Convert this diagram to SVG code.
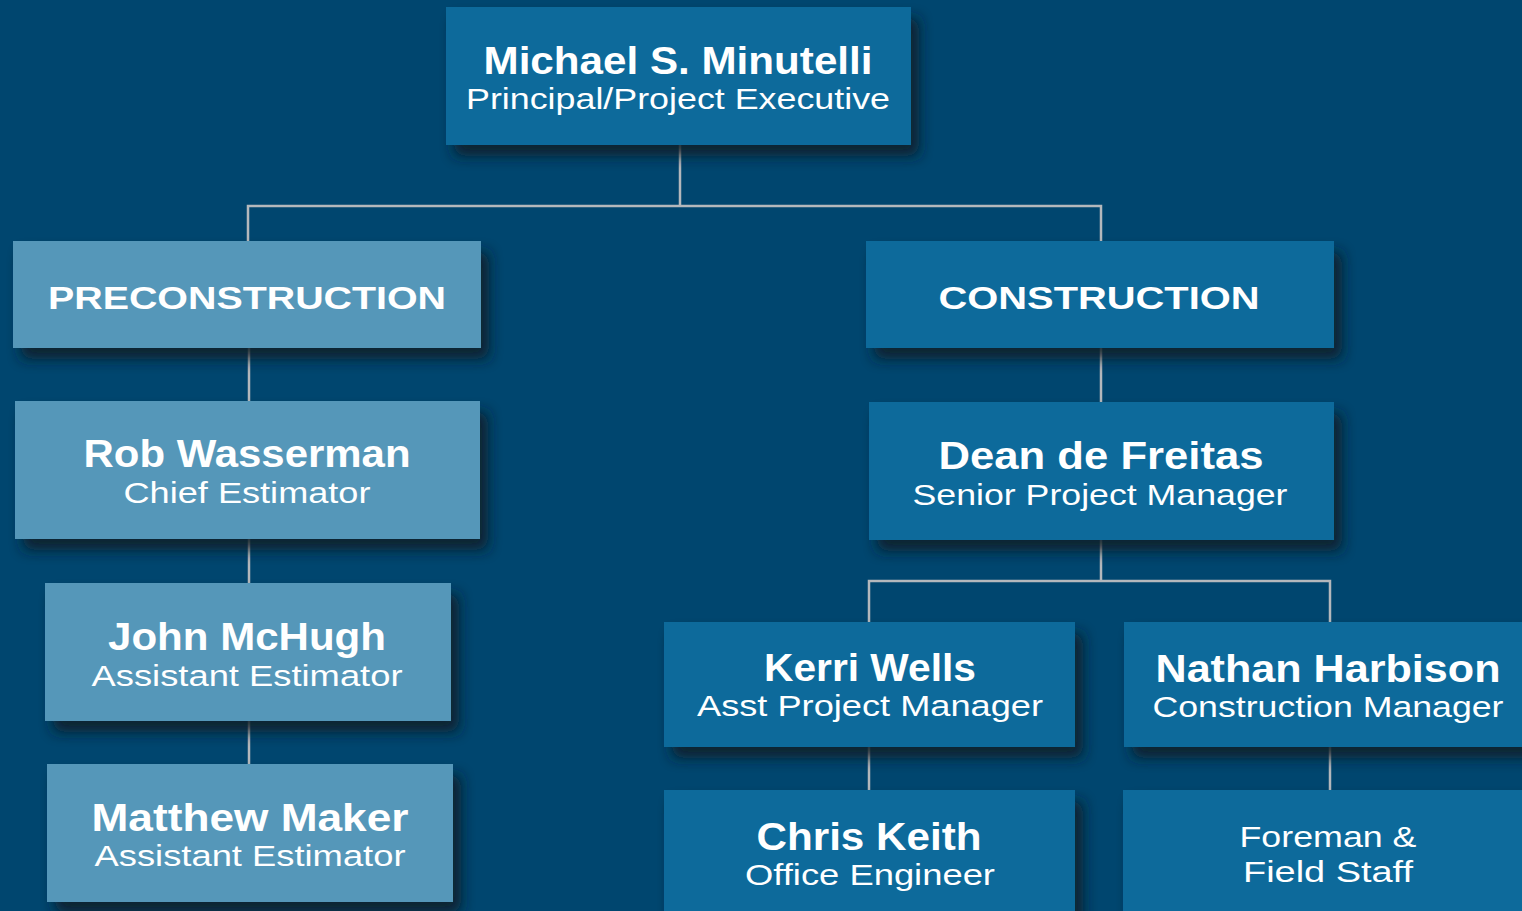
<svg xmlns="http://www.w3.org/2000/svg" width="1522" height="911" viewBox="0 0 1522 911">
<defs>
<filter id="sh" x="-10%" y="-20%" width="130%" height="160%">
<feDropShadow dx="8" dy="11" stdDeviation="7" flood-color="#0b1a26" flood-opacity="0.9"/>
</filter>
<style>
.dk{fill:#0b6a9b;filter:url(#sh)}
.lt{fill:#5597b9;filter:url(#sh)}
.nm{font-family:"Liberation Sans",Arial,sans-serif;font-weight:bold;font-size:38px;fill:#fff}
.sb{font-family:"Liberation Sans",Arial,sans-serif;font-size:29px;fill:#fff}
.hd{font-family:"Liberation Sans",Arial,sans-serif;font-weight:bold;font-size:32px;fill:#fff}
.ln{stroke:#b4b8bc;stroke-width:2.5;fill:none}
</style>
</defs>
<rect width="1522" height="911" fill="#00466f"/>
<g id="connectors">
<path class="ln" d="M680 145V206M248 241V206H1101V241"/>
<path class="ln" d="M249 348V401M249 539V583M249 721V764"/>
<path class="ln" d="M1101 348V402M1101 540V581M869 622V581H1330V622M869 747V790M1330 747V790"/>
</g>
<g id="principal">
<rect class="dk" x="446" y="7" width="465" height="138"/>
<text class="nm" x="678" y="74" text-anchor="middle" textLength="389" lengthAdjust="spacingAndGlyphs">Michael S. Minutelli</text>
<text class="sb" x="678" y="109" text-anchor="middle" textLength="424" lengthAdjust="spacingAndGlyphs">Principal/Project Executive</text>
</g>
<g id="preconstruction">
<rect class="lt" x="13" y="241" width="468" height="107"/>
<text class="hd" x="247" y="309" text-anchor="middle" textLength="398" lengthAdjust="spacingAndGlyphs">PRECONSTRUCTION</text>
</g>
<g id="construction">
<rect class="dk" x="866" y="241" width="468" height="107"/>
<text class="hd" x="1099" y="309" text-anchor="middle" textLength="321" lengthAdjust="spacingAndGlyphs">CONSTRUCTION</text>
</g>
<g id="rob">
<rect class="lt" x="15" y="401" width="465" height="138"/>
<text class="nm" x="247" y="467" text-anchor="middle" textLength="327" lengthAdjust="spacingAndGlyphs">Rob Wasserman</text>
<text class="sb" x="247" y="503" text-anchor="middle" textLength="247" lengthAdjust="spacingAndGlyphs">Chief Estimator</text>
</g>
<g id="john">
<rect class="lt" x="45" y="583" width="406" height="138"/>
<text class="nm" x="247" y="650" text-anchor="middle" textLength="278" lengthAdjust="spacingAndGlyphs">John McHugh</text>
<text class="sb" x="247" y="686" text-anchor="middle" textLength="311" lengthAdjust="spacingAndGlyphs">Assistant Estimator</text>
</g>
<g id="matthew">
<rect class="lt" x="47" y="764" width="406" height="138"/>
<text class="nm" x="250" y="831" text-anchor="middle" textLength="317" lengthAdjust="spacingAndGlyphs">Matthew Maker</text>
<text class="sb" x="250" y="866" text-anchor="middle" textLength="311" lengthAdjust="spacingAndGlyphs">Assistant Estimator</text>
</g>
<g id="dean">
<rect class="dk" x="869" y="402" width="465" height="138"/>
<text class="nm" x="1101" y="469" text-anchor="middle" textLength="325" lengthAdjust="spacingAndGlyphs">Dean de Freitas</text>
<text class="sb" x="1100" y="505" text-anchor="middle" textLength="375" lengthAdjust="spacingAndGlyphs">Senior Project Manager</text>
</g>
<g id="kerri">
<rect class="dk" x="664" y="622" width="411" height="125"/>
<text class="nm" x="870" y="681" text-anchor="middle" textLength="212" lengthAdjust="spacingAndGlyphs">Kerri Wells</text>
<text class="sb" x="870" y="716" text-anchor="middle" textLength="346" lengthAdjust="spacingAndGlyphs">Asst Project Manager</text>
</g>
<g id="nathan">
<rect class="dk" x="1124" y="622" width="410" height="125"/>
<text class="nm" x="1328" y="682" text-anchor="middle" textLength="345" lengthAdjust="spacingAndGlyphs">Nathan Harbison</text>
<text class="sb" x="1328" y="717" text-anchor="middle" textLength="351" lengthAdjust="spacingAndGlyphs">Construction Manager</text>
</g>
<g id="chris">
<rect class="dk" x="664" y="790" width="411" height="135"/>
<text class="nm" x="869" y="850" text-anchor="middle" textLength="225" lengthAdjust="spacingAndGlyphs">Chris Keith</text>
<text class="sb" x="870" y="885" text-anchor="middle" textLength="250" lengthAdjust="spacingAndGlyphs">Office Engineer</text>
</g>
<g id="foreman">
<rect class="dk" x="1123" y="790" width="410" height="135"/>
<text class="sb" x="1328" y="847" text-anchor="middle" textLength="177" lengthAdjust="spacingAndGlyphs">Foreman &amp;</text>
<text class="sb" x="1328" y="882" text-anchor="middle" textLength="170" lengthAdjust="spacingAndGlyphs">Field Staff</text>
</g>
</svg>
